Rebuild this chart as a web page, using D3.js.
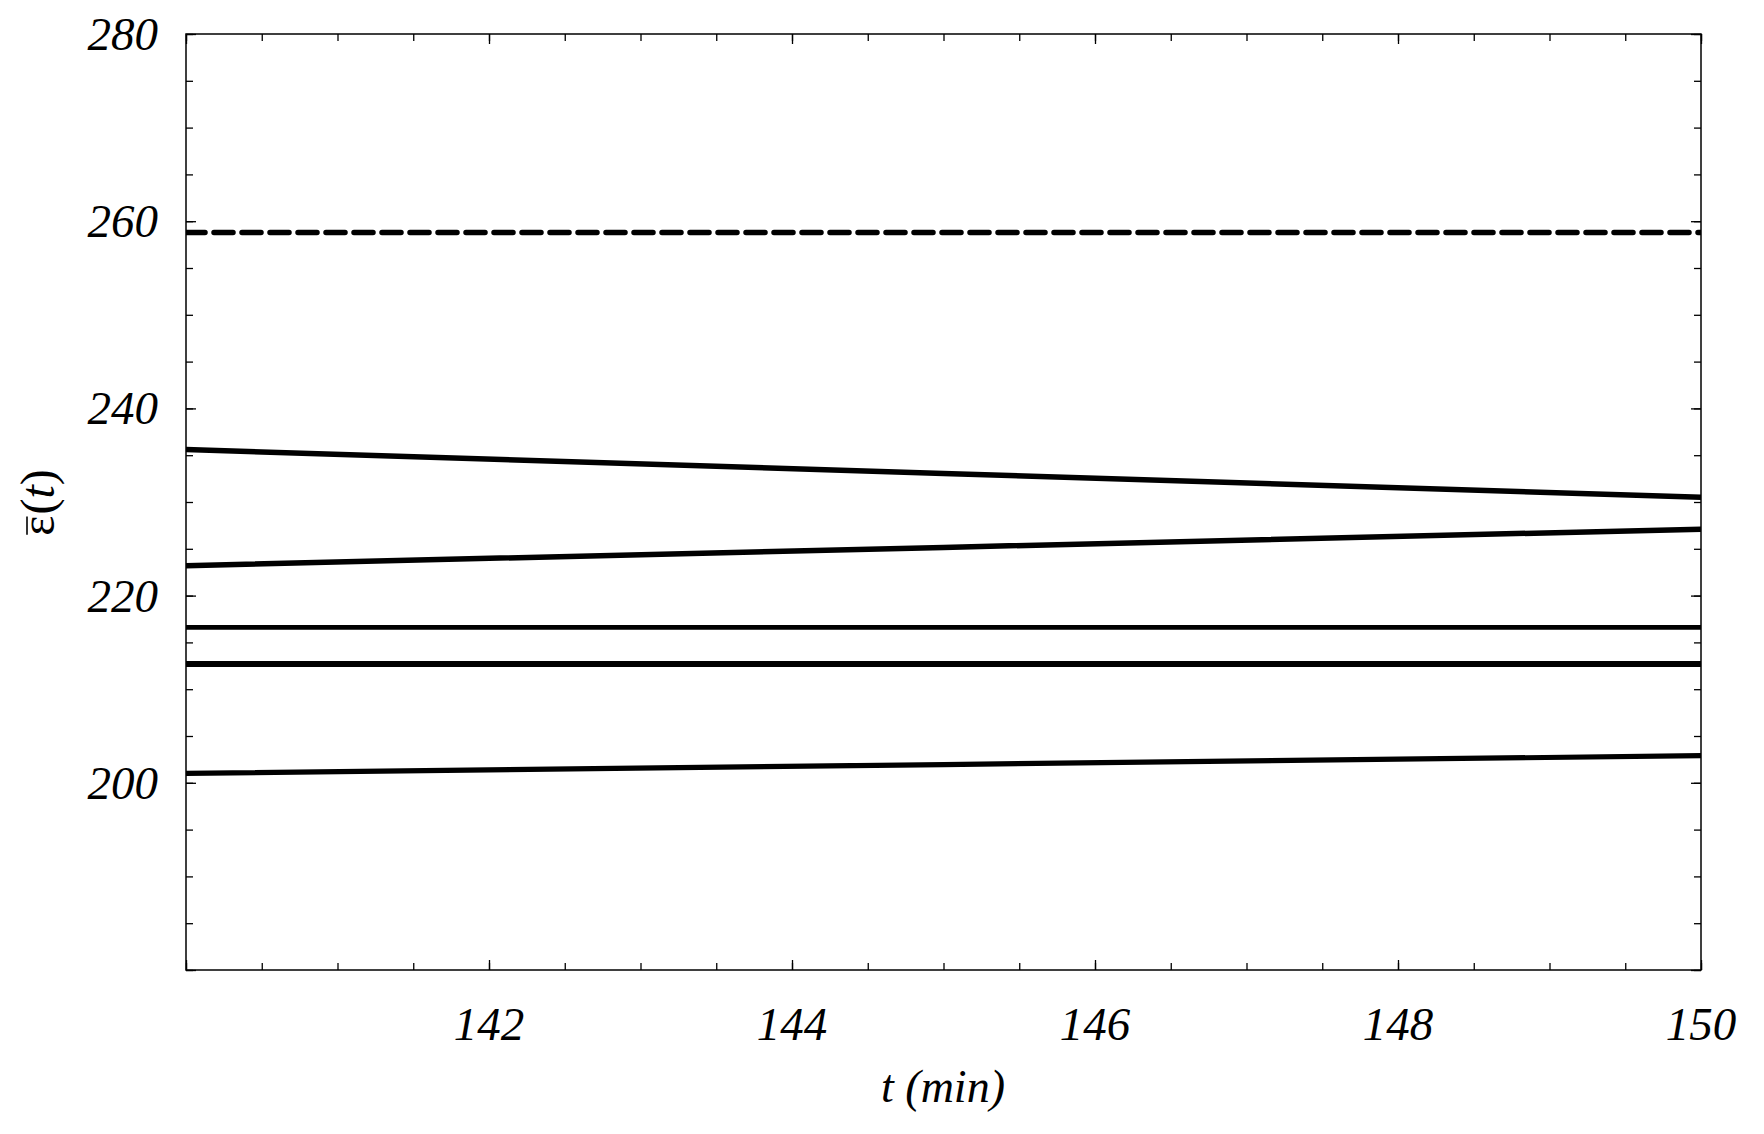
<!DOCTYPE html>
<html>
<head>
<meta charset="utf-8">
<script src="https://cdn.jsdelivr.net/npm/d3@7"></script>
<style>
  body { margin: 0; background: #fff; }
  text { font-family: "Liberation Serif", "Times New Roman", serif; }
</style>
</head>
<body>
<div id="chart"></div>
<script>
// values
var tValues = [140, 145, 150];
var dashedSeries = [258.8, 258.8, 258.8];
var seriesA = [235.6, 233.05, 230.5];
var seriesB = [223.2, 225.15, 227.1];
var seriesC = [216.6, 216.6, 216.6];
var seriesD = [212.7, 212.7, 212.7];
var seriesE = [201.0, 201.95, 202.9];
var xTickLabels = [142, 144, 146, 148, 150];
var yTickLabels = [200, 220, 240, 260, 280];

// set the dimensions and margins of the graph
var margin = {top: 34, right: 63, bottom: 164, left: 186},
    width = 1764 - margin.left - margin.right,
    height = 1134 - margin.top - margin.bottom;

var svg = d3.select("#chart")
  .append("svg")
    .attr("width", width + margin.left + margin.right)
    .attr("height", height + margin.top + margin.bottom)
  .append("g")
    .attr("transform", "translate(" + margin.left + "," + margin.top + ")");

var x = d3.scaleLinear().domain([140, 150]).range([0, width]);
var y = d3.scaleLinear().domain([180, 280]).range([height, 0]);

// clip so round caps of the dashed line stay inside the frame
svg.append("defs").append("clipPath")
    .attr("id", "clip")
  .append("rect")
    .attr("width", width).attr("height", height);

// frame
svg.append("rect")
  .attr("width", width).attr("height", height)
  .attr("fill", "none").attr("stroke", "#000").attr("stroke-width", 1.5);

// ticks on all four sides, pointing inward
var xMajor = d3.range(140, 150.01, 2), xMinor = d3.range(140, 150.01, 0.5);
var yMajor = d3.range(180, 280.01, 20), yMinor = d3.range(180, 280.01, 5);

function tickAxis(axisFn, scale, vals, size, tr) {
  var g = svg.append("g")
    .attr("transform", tr)
    .call(axisFn(scale).tickValues(vals).tickSize(size).tickFormat(""));
  g.select(".domain").remove();
  g.selectAll("line").attr("stroke", "#000").attr("stroke-width", 1.3);
}
tickAxis(d3.axisBottom, x, xMinor, -7, "translate(0," + height + ")");
tickAxis(d3.axisBottom, x, xMajor, -10, "translate(0," + height + ")");
tickAxis(d3.axisTop, x, xMinor, -7, "translate(0,0)");
tickAxis(d3.axisTop, x, xMajor, -10, "translate(0,0)");
tickAxis(d3.axisLeft, y, yMinor, -7, "translate(0,0)");
tickAxis(d3.axisLeft, y, yMajor, -10, "translate(0,0)");
tickAxis(d3.axisRight, y, yMinor, -7, "translate(" + width + ",0)");
tickAxis(d3.axisRight, y, yMajor, -10, "translate(" + width + ",0)");

// tick labels
svg.selectAll(".xlab").data(xTickLabels).enter().append("text")
  .attr("x", function(d) { return x(d); })
  .attr("y", height + 70)
  .attr("text-anchor", "middle")
  .style("font-size", "47px").style("font-style", "italic")
  .text(function(d) { return d; });

svg.selectAll(".ylab").data(yTickLabels).enter().append("text")
  .attr("x", -28)
  .attr("y", function(d) { return y(d) + 16; })
  .attr("text-anchor", "end")
  .style("font-size", "47px").style("font-style", "italic")
  .text(function(d) { return d; });

// axis titles
svg.append("text")
  .attr("x", 943 - margin.left)
  .attr("y", 1102 - margin.top)
  .attr("text-anchor", "middle")
  .style("font-size", "46px").style("font-style", "italic")
  .text("t (min)");

// y title: epsilon with a bar, then (t); rotated group
var yg = svg.append("g")
  .attr("transform", "translate(" + (54 - margin.left) + "," + (503 - margin.top) + ") rotate(-90)");
var eps = yg.append("text").style("font-size", "48px").text("\u03b5");
var rest = yg.append("text").style("font-size", "48px");
rest.append("tspan").text("(");
rest.append("tspan").style("font-style", "italic").text("t");
rest.append("tspan").text(")");
var we = eps.node().getComputedTextLength();
var wr = rest.node().getComputedTextLength();
var x0 = -(we + wr) / 2;
eps.attr("x", x0);
rest.attr("x", x0 + we + 1);
yg.append("line")
  .attr("x1", x0 + 1).attr("x2", x0 + we - 1)
  .attr("y1", -27).attr("y2", -27)
  .attr("stroke", "#000").attr("stroke-width", 1.6);

// lines
var line = d3.line()
  .x(function(d, i) { return x(tValues[i]); })
  .y(function(d) { return y(d); });

var series = [
  {v: dashedSeries, w: 5.5, dash: "19,9"},
  {v: seriesA, w: 5.5},
  {v: seriesB, w: 5.5},
  {v: seriesC, w: 4.7},
  {v: seriesD, w: 6},
  {v: seriesE, w: 5.2}
];

var plot = svg.append("g").attr("clip-path", "url(#clip)");
series.forEach(function(s) {
  plot.append("path")
    .datum(s.v)
    .attr("d", line)
    .attr("fill", "none")
    .attr("stroke", "#000")
    .attr("stroke-width", s.w)
    .attr("stroke-linecap", s.dash ? "round" : "butt")
    .attr("stroke-dasharray", s.dash || null);
});
</script>
</body>
</html>
